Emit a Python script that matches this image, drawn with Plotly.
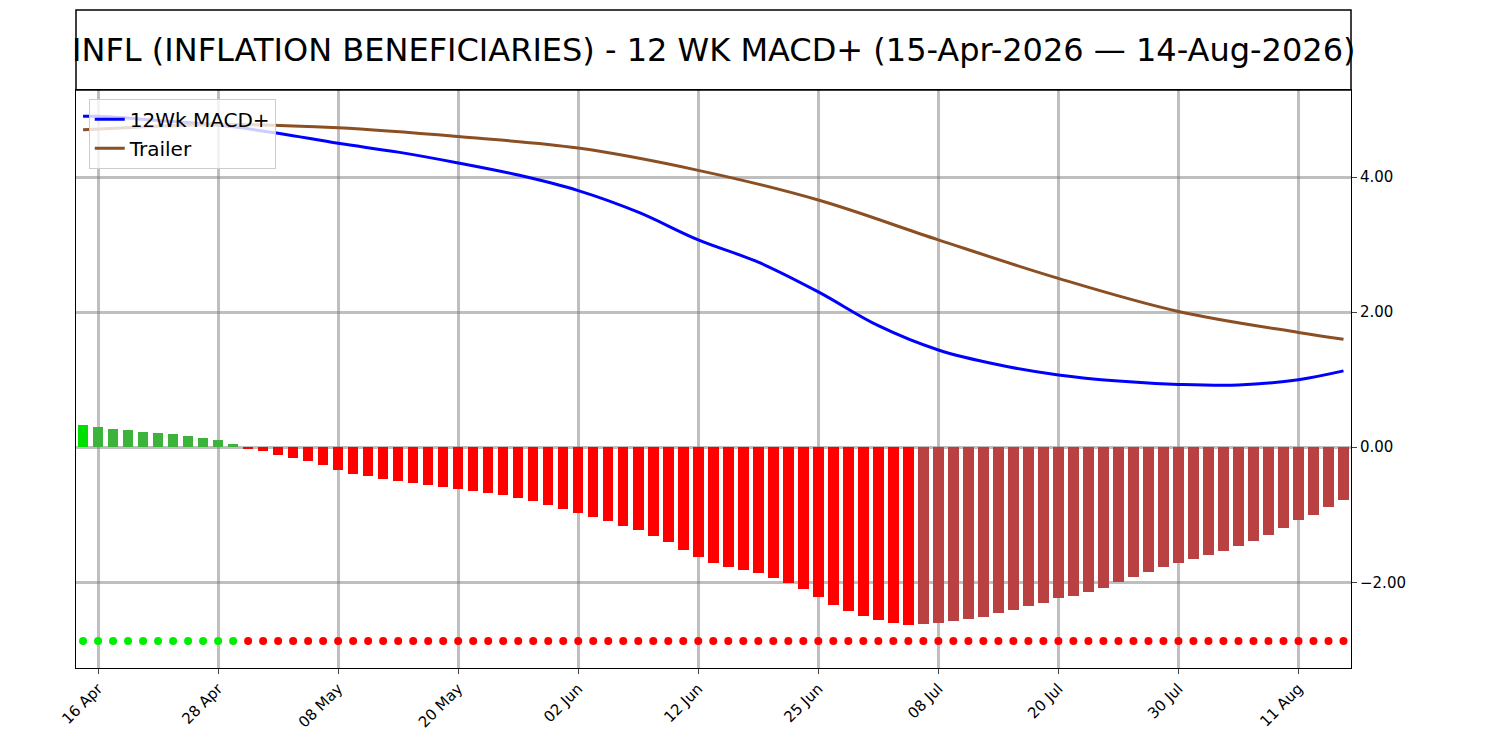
import plotly.graph_objects as go
import pandas as pd

# trading days 15-Apr-2026 .. 14-Aug-2026 (holidays removed)
days=pd.bdate_range("2026-04-15","2026-08-14")
days=days.drop(pd.to_datetime(["2026-05-25","2026-06-19","2026-07-03"]))
idx=list(range(len(days)))

hist=[0.33,0.30,0.27,0.25,0.23,0.21,0.19,0.17,0.14,0.10,0.05,
      -0.02,-0.06,-0.11,-0.16,-0.21,-0.27,
      -0.34,-0.39,-0.43,-0.47,-0.50,-0.53,-0.56,-0.59,
      -0.62,-0.65,-0.68,-0.71,-0.75,-0.80,-0.86,-0.92,
      -0.98,-1.04,-1.10,-1.16,-1.23,-1.32,-1.41,-1.52,
      -1.63,-1.72,-1.78,-1.82,-1.87,-1.93,-2.01,-2.10,
      -2.22,-2.33,-2.43,-2.50,-2.56,-2.60,-2.63,-2.62,
      -2.60,-2.58,-2.55,-2.51,-2.46,-2.41,-2.35,-2.30,
      -2.24,-2.20,-2.15,-2.08,-2.00,-1.92,-1.85,-1.78,
      -1.72,-1.66,-1.60,-1.54,-1.47,-1.39,-1.30,-1.20,
      -1.08,-1.01,-0.88,-0.78]

macd_x=[0,1,5,9,13,17,21,25,29,33,37,41,45,49,53,57,61,65,69,73,77,81,84]
macd_y=[4.90,4.90,4.84,4.77,4.65,4.50,4.37,4.21,4.03,3.80,3.48,3.07,2.74,2.30,1.80,1.44,1.22,1.07,0.98,0.93,0.92,1.00,1.13]
trail_x=[0,9,17,25,33,41,49,57,65,73,81,84]
trail_y=[4.70,4.78,4.73,4.60,4.43,4.10,3.66,3.07,2.50,2.01,1.70,1.60]

colors=[]
for i,h in enumerate(hist):
    if i==0:
        colors.append("#00e000")
    elif h>=0:
        colors.append("#3cb43c" if h<hist[i-1] else "#00e000")
    else:
        colors.append("#ff0000" if h<hist[i-1] else "#b94141")
dot_colors=["#00ee00" if h>=0 else "#ff0000" for h in hist]

fig=go.Figure()
fig.add_trace(go.Bar(x=idx,y=hist,marker_color=colors,marker_line_width=0,width=0.7,showlegend=False))
fig.add_trace(go.Scatter(x=idx,y=[-2.87]*len(idx),mode="markers",marker=dict(color=dot_colors,size=8),showlegend=False))
fig.add_trace(go.Scatter(x=macd_x,y=macd_y,mode="lines",line=dict(color="blue",width=3,shape="spline"),name="12Wk MACD+"))
fig.add_trace(go.Scatter(x=trail_x,y=trail_y,mode="lines",line=dict(color="#8b4f24",width=3,shape="spline"),name="Trailer"))

tickvals=list(range(1,len(days),8))
ticktext=[days[i].strftime("%d %b") for i in tickvals]
fig.update_layout(width=1500,height=750,plot_bgcolor="white",paper_bgcolor="white",
                  margin=dict(l=68,r=157,t=82,b=90),font=dict(family="DejaVu Sans",color="black"),
                  legend=dict(x=0.01,y=0.985,xanchor="left",yanchor="top",bordercolor="#cccccc",borderwidth=1,
                              bgcolor="rgba(255,255,255,0.8)",font=dict(size=20)),
                  bargap=0)
fig.update_xaxes(range=[-0.47,84.5],tickvals=tickvals,ticktext=ticktext,tickangle=-45,tickfont=dict(size=15),
                 showgrid=True,gridcolor="rgba(128,128,128,0.5)",gridwidth=3,zeroline=False,
                 showline=True,linecolor="black",mirror=True,ticks="outside")
fig.update_yaxes(range=[-3.27,5.29],side="right",tickvals=[-2,0,2,4],tickformat=".2f",tickfont=dict(size=15),
                 showgrid=True,gridcolor="rgba(128,128,128,0.5)",gridwidth=3,zeroline=False,
                 showline=True,linecolor="black",mirror=True,ticks="outside")
fig.add_shape(type="rect",xref="paper",yref="paper",x0=0,x1=1,y0=1,y1=1+80/578,line=dict(color="black",width=1.5))
fig.add_annotation(xref="paper",yref="paper",x=0.5,y=1+40/578,yanchor="middle",showarrow=False,
                   text="INFL (INFLATION BENEFICIARIES) - 12 WK MACD+ (15-Apr-2026 \u2014 14-Aug-2026)",font=dict(size=32))
fig.write_html("out.html")
